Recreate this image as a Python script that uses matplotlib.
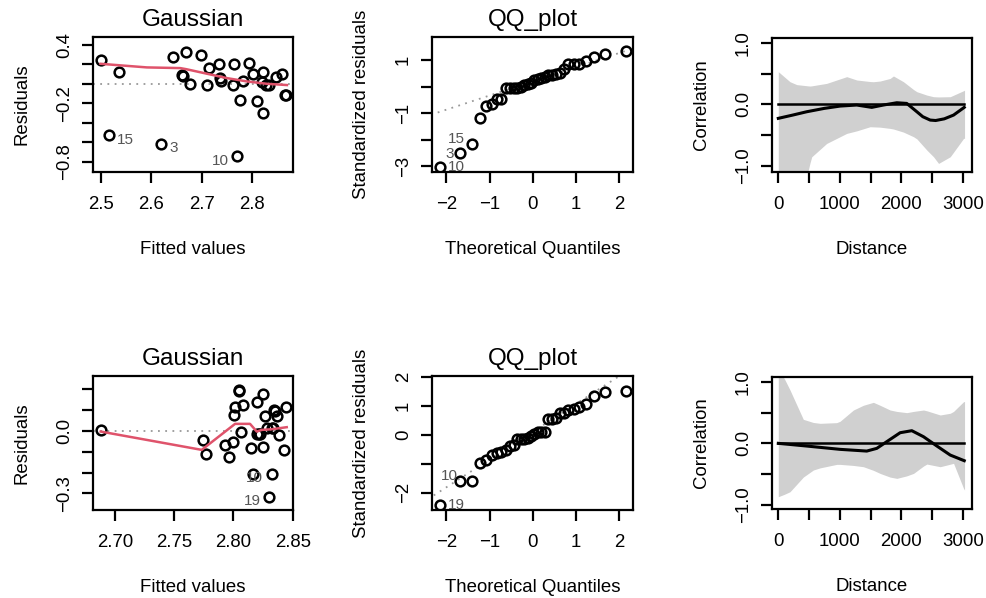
import matplotlib
matplotlib.use('Agg')
import matplotlib.pyplot as plt
import numpy as np
from statistics import NormalDist

plt.rcParams['font.family'] = ['Liberation Sans', 'DejaVu Sans']

# ---------------- data: top row ----------------
fit_top = [2.499, 2.536, 2.515, 2.619, 2.643, 2.668, 2.660, 2.662, 2.676, 2.698,
           2.715, 2.710, 2.735, 2.737, 2.738, 2.762, 2.764, 2.775, 2.781, 2.770,
           2.794, 2.802, 2.810, 2.821, 2.819, 2.827, 2.833, 2.821, 2.848, 2.860,
           2.868, 2.866]
res_top = [0.240, 0.126, -0.530, -0.615, 0.274, 0.325, 0.092, 0.075, -0.003, 0.300,
           0.167, -0.013, 0.205, 0.058, 0.024, -0.013, 0.205, -0.165, 0.031, -0.745,
           0.212, 0.103, -0.180, 0.120, 0.014, -0.017, -0.010, -0.295, 0.069, 0.103,
           -0.112, -0.118]
lab_idx_top = [2, 3, 19]
lab_txt_top = ['15', '3', '10']
sigma_top = 0.246
smooth_top_x = [2.499, 2.591, 2.657, 2.669, 2.750, 2.790, 2.829, 2.869]
smooth_top_y = [0.205, 0.168, 0.161, 0.150, 0.058, 0.024, 0.000, -0.013]

# ---------------- data: bottom row ----------------
fit_bot = [2.6879, 2.774, 2.777, 2.793, 2.7994, 2.796, 2.8005, 2.801, 2.8047, 2.805,
           2.8084, 2.8064, 2.8146, 2.8168, 2.8202, 2.8253, 2.8197, 2.8225, 2.8247, 2.8267,
           2.8287, 2.8323, 2.8323, 2.8303, 2.8345, 2.8366, 2.8385, 2.843, 2.8444, 2.8335,
           2.8215, 2.8350]
res_bot = [0.005, -0.043, -0.111, -0.067, -0.051, -0.127, 0.077, 0.114, 0.199, 0.193,
           0.125, -0.006, -0.083, -0.206, 0.141, 0.176, -0.016, -0.016, -0.078, 0.072,
           0.013, 0.013, -0.208, -0.316, 0.101, 0.072, -0.019, -0.091, 0.117, 0.015,
           -0.014, 0.098]
lab_idx_bot = [22, 23]
lab_txt_bot = ['10', '19']
sigma_bot = 0.130
smooth_bot_x = [2.6879, 2.7732, 2.8014, 2.8047, 2.814, 2.8197, 2.824, 2.8323, 2.845]
smooth_bot_y = [-0.003, -0.091, 0.034, 0.034, 0.034, -0.003, 0.005, 0.008, 0.018]

# ---------------- correlograms ----------------
cor_top_x = [0, 230, 462, 750, 1005, 1276, 1520, 1710, 1928, 2090, 2254, 2350, 2471, 2560, 2700, 2851, 3025]
cor_top_mean = [-0.227, -0.175, -0.120, -0.065, -0.028, -0.011, -0.049, -0.011, 0.026, 0.015,
                -0.120, -0.200, -0.255, -0.262, -0.235, -0.174, -0.049]
band_top_x = [0, 190, 300, 480, 516, 544, 787, 1113, 1276, 1493, 1547, 1656, 1819, 1873, 2036,
              2200, 2254, 2417, 2525, 2607, 2797, 3014, 3030]
band_top_lo = [-1.50, -1.40, -1.30, -1.10, -0.95, -0.85, -0.634, -0.471, -0.43, -0.363, -0.365, -0.37,
               -0.39, -0.40, -0.45, -0.525, -0.56, -0.742, -0.85, -0.958, -0.85, -0.552, -0.55]
band_top_hi = [0.53, 0.367, 0.32, 0.30, 0.297, 0.30, 0.34, 0.449, 0.395, 0.37, 0.367, 0.378,
               0.42, 0.46, 0.367, 0.24, 0.205, 0.15, 0.124, 0.12, 0.124, 0.221, 0.23]

cor_bot_x = [0, 462, 1005, 1439, 1602, 1764, 1982, 2172, 2362, 2580, 2797, 3025]
cor_bot_mean = [0.0, -0.044, -0.098, -0.126, -0.082, 0.027, 0.173, 0.206, 0.108, -0.044, -0.191, -0.283]
band_bot_x = [0, 100, 190, 407, 570, 679, 950, 1005, 1222, 1384, 1547, 1656, 1819, 1928, 2090,
              2200, 2362, 2417, 2634, 2797, 2851, 3014, 3030]
band_bot_hi = [1.20, 1.05, 0.87, 0.391, 0.34, 0.326, 0.337, 0.36, 0.543, 0.62, 0.668, 0.62, 0.543,
               0.52, 0.50, 0.52, 0.543, 0.53, 0.462, 0.49, 0.52, 0.679, 0.68]
band_bot_lo = [-0.87, -0.83, -0.789, -0.55, -0.435, -0.40, -0.343, -0.343, -0.36, -0.381, -0.44, -0.49,
               -0.55, -0.571, -0.53, -0.49, -0.37, -0.338, -0.381, -0.34, -0.326, -0.735, -0.76]

# ---------------- tick definitions ----------------
res_top_yticks = [0.4, 0.2, 0.0, -0.2, -0.4, -0.6, -0.8]
res_top_ylabels = ['0.4', '', '', '\u22120.2', '', '', '\u22120.8']
res_top_xticks = [2.5, 2.6, 2.7, 2.8]
res_top_xlabels = ['2.5', '2.6', '2.7', '2.8']
qq_top_yticks = [1, 0, -1, -2, -3]
qq_top_ylabels = ['1', '', '\u22121', '', '\u22123']
qq_xticks = [-2, -1, 0, 1, 2]
qq_xlabels = ['\u22122', '\u22121', '0', '1', '2']
cor_yticks = [1.0, 0.5, 0.0, -0.5, -1.0]
cor_ylabels = ['1.0', '', '0.0', '', '\u22121.0']
cor_xticks = [0, 500, 1000, 1500, 2000, 2500, 3000]
cor_xlabels = ['0', '', '1000', '', '2000', '', '3000']
res_bot_yticks = [0.2, 0.1, 0.0, -0.1, -0.2, -0.3]
res_bot_ylabels = ['', '', '0.0', '', '', '\u22120.3']
res_bot_xticks = [2.70, 2.75, 2.80, 2.85]
res_bot_xlabels = ['2.70', '2.75', '2.80', '2.85']
qq_bot_yticks = [2, 1, 0, -1, -2]
qq_bot_ylabels = ['2', '1', '0', '', '\u22122']

W, H = 987, 598
fig = plt.figure(figsize=(W / 100, H / 100), dpi=100)

FS = 13.4
TFS = 17.5
RED = '#DF536B'
LAB = '#555555'


def mkax(x0, x1, y0, y1):
    return fig.add_axes([x0 / W, 1 - y1 / H, (x1 - x0) / W, (y1 - y0) / H])


def style(ax, title, xlabel, ylabel, xt, xl, yt, yl, xlim, ylim):
    ax.set_xlim(*xlim)
    ax.set_ylim(*ylim)
    ax.set_xticks(xt, xl, fontsize=FS)
    ax.set_yticks(yt, yl, fontsize=FS, rotation=90, va='center')
    ax.tick_params(axis='both', length=8, width=1.6, direction='out')
    ax.tick_params(axis='x', pad=9.5)
    ax.tick_params(axis='y', pad=6.5)
    for s in ax.spines.values():
        s.set_linewidth(1.6)
    ax.set_title(title, fontsize=TFS, pad=8)
    ax.set_xlabel(xlabel, fontsize=FS, labelpad=20)
    ax.set_ylabel(ylabel, fontsize=FS, labelpad=18)


def qq(res, sigma):
    r = np.asarray(res) / sigma
    order = np.argsort(r)
    rs = r[order]
    n = len(rs)
    a = 3 / 8 if n <= 10 else 0.5
    p = (np.arange(1, n + 1) - a) / (n + 1 - 2 * a)
    z = np.array([NormalDist().inv_cdf(v) for v in p])
    q25, q75 = np.quantile(rs, [0.25, 0.75])
    z25, z75 = NormalDist().inv_cdf(0.25), NormalDist().inv_cdf(0.75)
    slope = (q75 - q25) / (z75 - z25)
    inter = q25 - slope * z25
    rank = np.empty(n, dtype=int)
    rank[order] = np.arange(n)
    return z, rs, slope, inter, rank


def resid_panel(ax, fit, res, sx, sy, idx, txt, sides):
    ax.axhline(0, color='#999999', lw=1.3, ls=(0, (1, 3)))
    ax.plot(fit, res, 'o', mfc='none', mec='black', ms=7, mew=1.8)
    ax.plot(sx, sy, color=RED, lw=1.8)
    for i, t, s in zip(idx, txt, sides):
        ax.annotate(t, (fit[i], res[i]), xytext=(6 * s, -3), textcoords='offset points',
                    ha='left' if s > 0 else 'right', va='center', fontsize=11, color=LAB)


def qq_panel(ax, res, sigma, idx, txt, offs):
    z, rs, slope, inter, rank = qq(res, sigma)
    xx = np.array([-3, 3])
    ax.plot(xx, inter + slope * xx, color='#999999', lw=1.3, ls=(0, (1, 3)))
    ax.plot(z, rs, 'o', mfc='none', mec='black', ms=7, mew=1.8)
    for i, t, o in zip(idx, txt, offs):
        k = rank[i]
        ax.annotate(t, (z[k], rs[k]), xytext=o, textcoords='offset points',
                    ha='left' if o[0] > 0 else 'right', va='center', fontsize=11, color=LAB)


def cor_panel(ax, x, m, bx, lo, hi):
    ax.fill_between(bx, lo, hi, color='#d0d0d0', lw=0)
    ax.plot([0, 3020], [0, 0], color='black', lw=1.8)
    ax.plot(x, m, color='black', lw=2.2)


# ---- top row ----
ax1 = mkax(93, 293, 37, 172)
resid_panel(ax1, fit_top, res_top, smooth_top_x, smooth_top_y, lab_idx_top, lab_txt_top, [1, 1, -1])
style(ax1, 'Gaussian', 'Fitted values', 'Residuals', res_top_xticks, res_top_xlabels,
      res_top_yticks, res_top_ylabels, (2.484, 2.881), (-0.905, 0.48))

ax2 = mkax(432, 633, 37, 172)
qq_panel(ax2, res_top, sigma_top, lab_idx_top, lab_txt_top, [(-5, 3), (-5, -1), (6, 0)])
style(ax2, 'QQ_plot', 'Theoretical Quantiles', 'Standardized residuals', qq_xticks, qq_xlabels,
      qq_top_yticks, qq_top_ylabels, (-2.336, 2.327), (-3.226, 1.868))

ax3 = mkax(772, 972, 38, 172)
cor_panel(ax3, cor_top_x, cor_top_mean, band_top_x, band_top_lo, band_top_hi)
style(ax3, '', 'Distance', 'Correlation', cor_xticks, cor_xlabels,
      cor_yticks, cor_ylabels, (-102.5, 3151), (-1.097, 1.076))

# ---- bottom row ----
ax4 = mkax(93, 293, 376, 510)
resid_panel(ax4, fit_bot, res_bot, smooth_bot_x, smooth_bot_y, lab_idx_bot, lab_txt_bot, [-1, -1])
style(ax4, 'Gaussian', 'Fitted values', 'Residuals', res_bot_xticks, res_bot_xlabels,
      res_bot_yticks, res_bot_ylabels, (2.6814, 2.8503), (-0.38, 0.264))

ax5 = mkax(432, 633, 376, 510)
qq_panel(ax5, res_bot, sigma_bot, lab_idx_bot, lab_txt_bot, [(-2, 4), (6, 0)])
style(ax5, 'QQ_plot', 'Theoretical Quantiles', 'Standardized residuals', qq_xticks, qq_xlabels,
      qq_bot_yticks, qq_bot_ylabels, (-2.336, 2.327), (-2.60, 2.045))

ax6 = mkax(772, 972, 377, 509)
cor_panel(ax6, cor_bot_x, cor_bot_mean, band_bot_x, band_bot_lo, band_bot_hi)
style(ax6, '', 'Distance', 'Correlation', cor_xticks, cor_xlabels,
      cor_yticks, cor_ylabels, (-102.5, 3151), (-1.07, 1.081))

fig.savefig('out.png', dpi=100)
